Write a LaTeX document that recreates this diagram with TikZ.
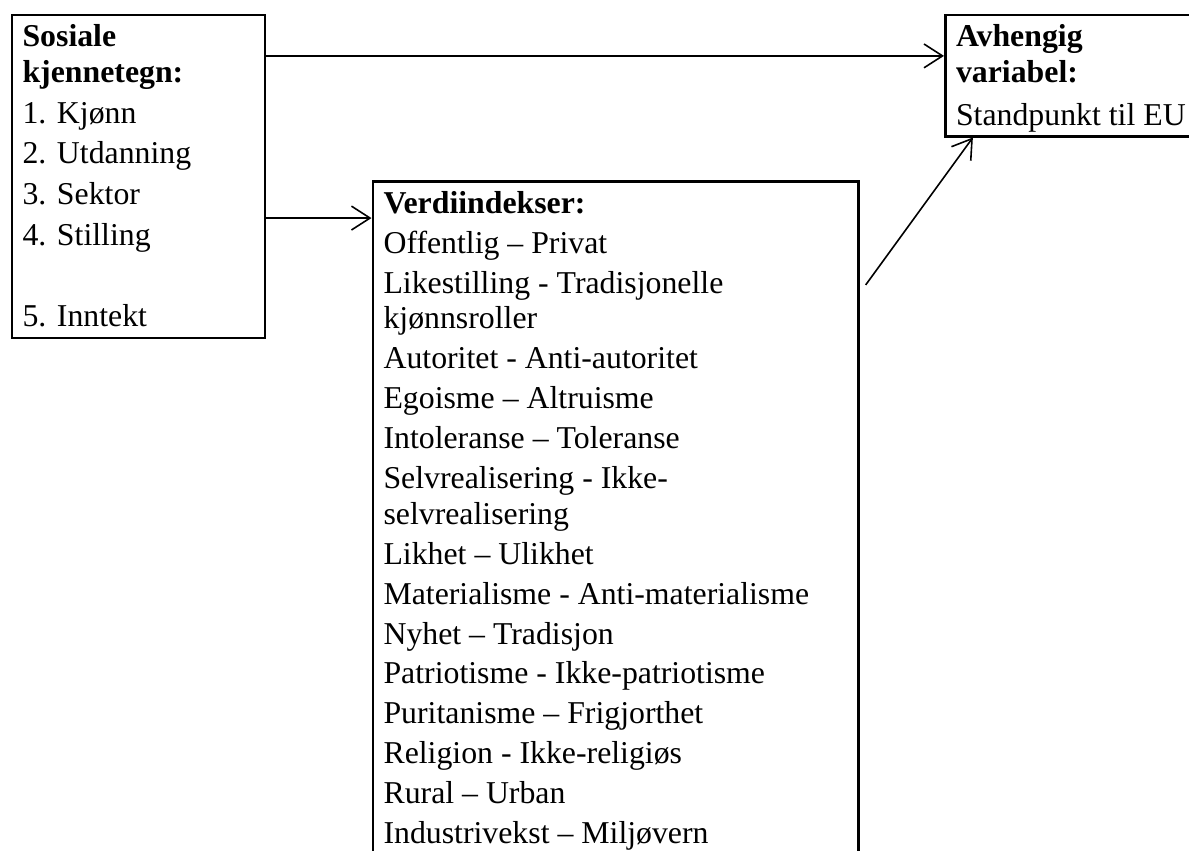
\documentclass[tikz,border=0pt]{standalone}
\usepackage{fontspec}
\setmainfont{Liberation Serif}
\usetikzlibrary{arrows.meta}

% fixed-size text cell, text starts at the top
\newcommand\celltext[3]{\parbox[t][#1][t]{#2}{\raggedright\rule{0pt}{12pt}#3}}

\begin{document}
\begin{tikzpicture}[x=0.3774pt,y=-0.3774pt,
  panel/.style={draw,line width=1.1pt,anchor=north west,inner xsep=4pt,inner ysep=0pt,
    font=\fontsize{12pt}{13.47pt}\selectfont},
  arr/.style={line width=0.6pt,-{Straight Barb[length=7pt,width=9pt]}}]
 \path[use as bounding box,clip] (0,0) rectangle (1189,850);
 \node[panel] (sos) at (10.5,13.5) {\celltext{121.9pt}{87.5pt}{\setlength\parskip{1.9pt}%
   \textbf{Sosiale}\\ \textbf{kjennetegn:}\par
   1. Kjønn\par
   2. Utdanning\par
   3. Sektor\par
   4. Stilling\par
   \mbox{}\par
   5. Inntekt}};
 \node[panel] (verdi) at (371.5,180) {\celltext{256pt}{175.2pt}{\setlength\parskip{1.6pt}%
   \textbf{Verdiindekser:}\par
   Offentlig – Privat\par
   Likestilling - Tradisjonelle\\ kjønnsroller\par
   Autoritet - Anti-autoritet\par
   Egoisme – Altruisme\par
   Intoleranse – Toleranse\par
   Selvrealisering - Ikke-\\ selvrealisering\par
   Likhet – Ulikhet\par
   Materialisme - Anti-materialisme\par
   Nyhet – Tradisjon\par
   Patriotisme - Ikke-patriotisme\par
   Puritanisme – Frigjorthet\par
   Religion - Ikke-religiøs\par
   Rural – Urban\par
   Industrivekst – Miljøvern}};
 \node[panel] (avh) at (944,13.5) {\celltext{45.7pt}{92pt}{%
   \textbf{Avhengig}\\ \textbf{variabel:}\\[2.6pt] Standpunkt til EU}};
 \coordinate (s1) at ([yshift=-16pt]sos.north east);
 \coordinate (s2) at ([yshift=-77.2pt]sos.north east);
 \coordinate (s3) at ([shift={(2.2pt,-39.6pt)}]verdi.north east);
 \path[arr]
  (s1) edge (s1 -| avh.west)
  (s2) edge (s2 -| verdi.west)
  (s3) edge ([xshift=10.9pt]avh.south west);
\end{tikzpicture}
\end{document}
